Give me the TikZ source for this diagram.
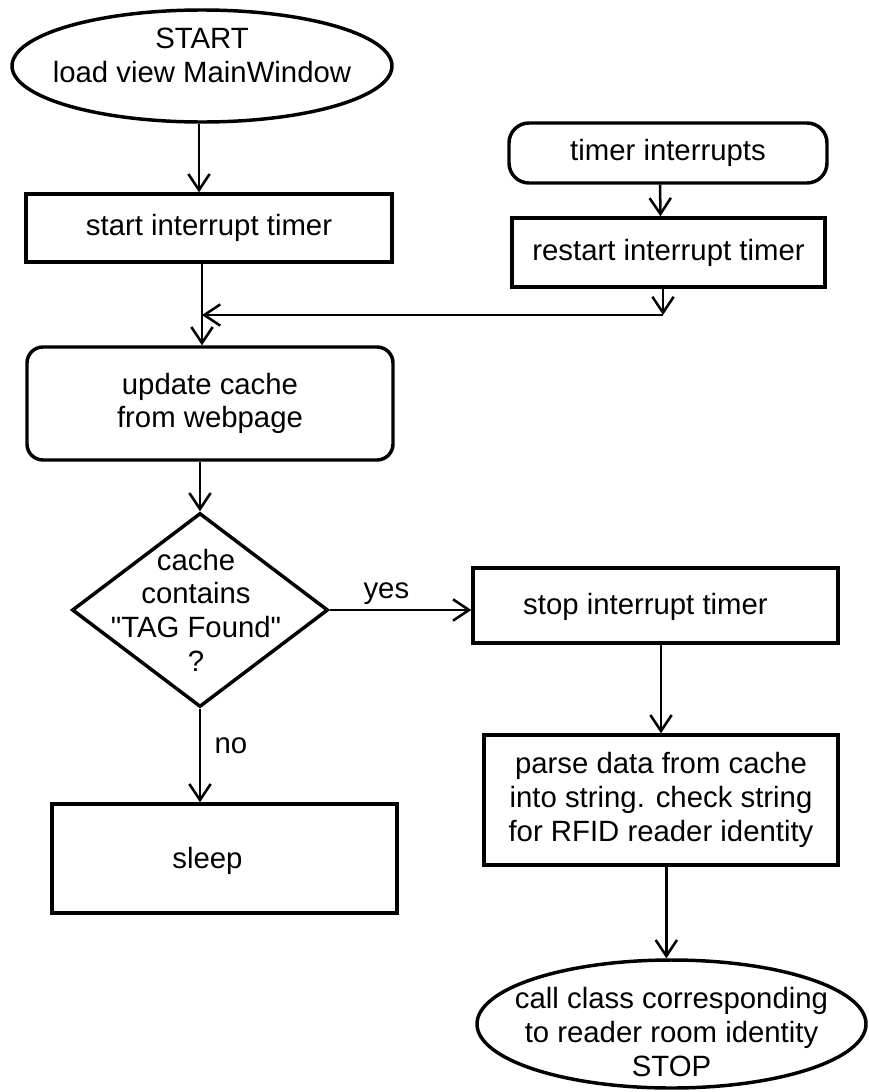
\documentclass[tikz,border=0pt]{standalone}
\usepackage{fontspec}
\setmainfont{Liberation Sans}
\usetikzlibrary{shapes.geometric,arrows.meta}

\begin{document}
\begin{tikzpicture}[x=0.75pt,y=-0.75pt,
  every node/.style={font=\fontsize{22}{25.2}\selectfont, align=center, inner sep=0pt},
  outline/.style={draw, line width=2.6pt},
  procbox/.style={outline, rectangle},
  roundbox/.style={outline, rectangle, rounded corners=12pt},
  term/.style={outline, ellipse},
  decision/.style={outline, diamond},
  arr/.style={line width=1.9pt, -{Straight Barb[length=12pt,width=16pt,line width=1.9pt]}},
  lbl/.style={font=\fontsize{22}{25.2}\selectfont}
]
\useasboundingbox (0,0) rectangle (868,1092);

% left column
\node[term, minimum width=285pt, minimum height=84pt] (start) at (202,66) {};
\node at ([yshift=8pt]start.center) (startt) {START\\load view MainWindow};
\node[procbox, minimum width=274.5pt, minimum height=51pt] (startbox) at (209,228) {start interrupt timer};
\node[roundbox, minimum width=274.5pt, minimum height=84.75pt] (update) at (210,403.5) {update cache\\from webpage};
\node[decision, minimum width=192pt, minimum height=145.5pt] (dia) at (200,610) {};
\node at ([xshift=-3pt]dia.center) (diat) {cache\\contains\\\textquotedbl TAG Found\textquotedbl\\?};
\node[procbox, minimum width=258.75pt, minimum height=81.75pt] (sleep) at (224.5,858.5) {};
\node at ([xshift=-12.75pt,yshift=-2pt]sleep.center) (sleept) {sleep};

% right column
\node[roundbox, rounded corners=15pt, minimum width=238.5pt, minimum height=45pt] (timer) at (668,153) {timer interrupts};
\node[procbox, minimum width=234.75pt, minimum height=51.75pt] (restart) at (668.5,252.5) {restart interrupt timer};
\node[procbox, minimum width=273.75pt, minimum height=56.25pt] (stop) at (655.5,605.5) {};
\node at ([xshift=-7.5pt,yshift=-1pt]stop.center) (stopt) {stop interrupt timer};
\node[procbox, minimum width=265.5pt, minimum height=97.5pt] (parse) at (661,800) {parse data from cache\\into string. check string\\for RFID reader identity};
\node[term, minimum width=291.75pt, minimum height=96pt] (finish) at (671.5,1024) {};
\node at ([yshift=-6pt]finish.center) (finisht) {call class corresponding\\to reader room identity\\STOP};

% junction of the two timer paths
\coordinate (j) at (202,315);
\coordinate (k) at (663,315);

% connectors
\draw[arr] ([xshift=-2.25pt]start.south) -- ([xshift=-2.25pt]start.south |- startbox.north);
\draw[arr] (startbox.south -| j) -- (update.north -| j);
\draw[arr] ([xshift=-6pt]timer.south) -- ([xshift=-6pt]restart.north);
\draw[arr] (restart.south -| k) -- (k);
\draw[arr] (k) -- (j);
\draw[arr] (update.south -| dia) -- (dia.north);
\draw[arr] (dia.east) -- (dia.east -| stop.west) node[lbl, pos=0.4, above=3pt] (yes) {yes};
\draw[arr] (dia.south) -- (dia.south |- sleep.north) node[lbl, pos=0.4, right=10pt] (no) {no};
\draw[arr] (stop.south -| parse) -- (parse.north);
\draw[arr] ([xshift=4pt]parse.south) -- ([xshift=4pt]parse.south |- finish.north);
\end{tikzpicture}
\end{document}
